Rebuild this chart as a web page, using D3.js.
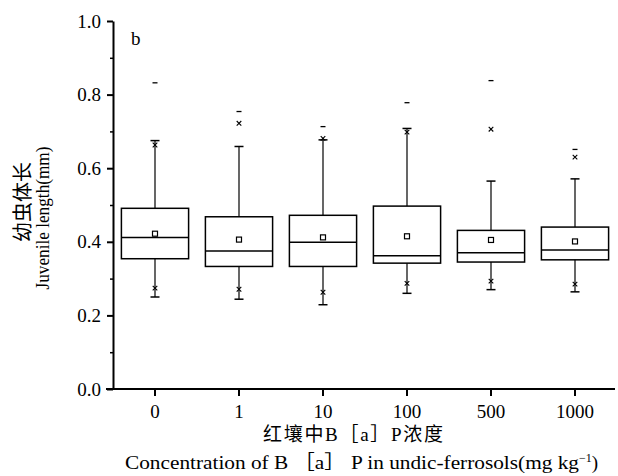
<!DOCTYPE html>
<html>
<head>
<meta charset="utf-8">
<script src="https://cdn.jsdelivr.net/npm/d3@7"></script>
<style>
  body { margin: 0; background: #fff; }
  svg text { font-family: "Liberation Serif", "Noto Sans CJK SC", serif; fill: #000; }
</style>
</head>
<body>
<svg id="chart" width="618" height="476"></svg>
<script>
// groups: B[a]P concentration in soil
const categories = ["0", "1", "10", "100", "500", "1000"];

// box statistics (mm)
const q1       = [0.354, 0.333, 0.333, 0.342, 0.345, 0.351];
const median   = [0.412, 0.375, 0.399, 0.362, 0.370, 0.378];
const q3       = [0.491, 0.468, 0.472, 0.497, 0.431, 0.440];
const mean     = [0.422, 0.406, 0.412, 0.415, 0.405, 0.401];
const whiskLo  = [0.250, 0.244, 0.229, 0.260, 0.270, 0.264];
const whiskHi  = [0.675, 0.659, 0.677, 0.708, 0.565, 0.571];
const pctLo    = [0.274, 0.271, 0.263, 0.287, 0.293, 0.285];   // 1% marks (x)
const pctHi    = [0.663, 0.722, 0.681, 0.698, 0.706, 0.630];   // 99% marks (x)
const maxVal   = [0.832, 0.754, 0.713, 0.778, 0.838, 0.651];   // max (dash)

const yTicks = [0, 0.2, 0.4, 0.6, 0.8, 1.0];
const yMinorTicks = [0.1, 0.3, 0.5, 0.7, 0.9];

const FONT = '"Liberation Serif", "Noto Sans CJK SC", serif';

const svg = d3.select("#chart");
const margin = {left: 113, right: 1, top: 21, bottom: 87};
const W = +svg.attr("width"), H = +svg.attr("height");

const x = d3.scaleBand()
    .domain(categories)
    .range([margin.left, W - margin.right]);

const y = d3.scaleLinear()
    .domain([0, 1])
    .range([H - margin.bottom, margin.top]);

const data = categories.map((c, i) => ({
    key: c, q1: q1[i], med: median[i], q3: q3[i], mean: mean[i],
    lo: whiskLo[i], hi: whiskHi[i], pLo: pctLo[i], pHi: pctHi[i], max: maxVal[i]
}));

const boxW = x.bandwidth() * 0.8;
const capW = 9;
const cx = d => x(d.key) + x.bandwidth() / 2;

// boxes
const g = svg.append("g").attr("class", "boxes");
const box = g.selectAll("g.box").data(data).enter().append("g").attr("class", "box");

// whiskers
box.append("line")
    .attr("x1", cx).attr("x2", cx)
    .attr("y1", d => y(d.q3)).attr("y2", d => y(d.hi))
    .attr("stroke", "#000").attr("stroke-width", 1.2);
box.append("line")
    .attr("x1", cx).attr("x2", cx)
    .attr("y1", d => y(d.q1)).attr("y2", d => y(d.lo))
    .attr("stroke", "#000").attr("stroke-width", 1.2);
// caps
box.selectAll("line.cap").data(d => [[d, d.hi], [d, d.lo]]).enter().append("line")
    .attr("class", "cap")
    .attr("x1", d => cx(d[0]) - capW / 2).attr("x2", d => cx(d[0]) + capW / 2)
    .attr("y1", d => y(d[1])).attr("y2", d => y(d[1]))
    .attr("stroke", "#000").attr("stroke-width", 1.5);

box.append("rect")
    .attr("x", d => cx(d) - boxW / 2)
    .attr("width", boxW)
    .attr("y", d => y(d.q3))
    .attr("height", d => y(d.q1) - y(d.q3))
    .attr("fill", "none").attr("stroke", "#000").attr("stroke-width", 1.5);

box.append("line")
    .attr("x1", d => cx(d) - boxW / 2).attr("x2", d => cx(d) + boxW / 2)
    .attr("y1", d => y(d.med)).attr("y2", d => y(d.med))
    .attr("stroke", "#000").attr("stroke-width", 1.5);

// mean square
box.append("rect")
    .attr("x", d => cx(d) - 2.5).attr("y", d => y(d.mean) - 2.5)
    .attr("width", 5).attr("height", 5)
    .attr("fill", "#fff").attr("stroke", "#000").attr("stroke-width", 1.2);

// percentile crosses
const cross = (px, py, s) =>
    `M${px - s},${py - s}L${px + s},${py + s}M${px - s},${py + s}L${px + s},${py - s}`;
box.append("path")
    .attr("d", d => cross(cx(d), y(d.pHi), 2.3) + cross(cx(d), y(d.pLo), 2.3))
    .attr("fill", "none").attr("stroke", "#000").attr("stroke-width", 1.1);

// max dash
box.append("line")
    .attr("x1", d => cx(d) - 2.5).attr("x2", d => cx(d) + 2.5)
    .attr("y1", d => y(d.max)).attr("y2", d => y(d.max))
    .attr("stroke", "#000").attr("stroke-width", 1.3);

// axes
const yAxis = svg.append("g")
    .attr("transform", `translate(${margin.left},0)`)
    .call(d3.axisLeft(y).tickValues(yTicks).tickFormat(d3.format(".1f"))
        .tickSize(6).tickSizeOuter(0).tickPadding(6));
svg.append("g")
    .attr("transform", `translate(${margin.left},0)`)
    .call(d3.axisLeft(y).tickValues(yMinorTicks).tickFormat("").tickSize(3).tickSizeOuter(0))
    .call(a => a.select(".domain").remove())
    .selectAll("line").attr("stroke-width", 1.5);

const xAxis = svg.append("g")
    .attr("transform", `translate(0,${y(0)})`)
    .call(d3.axisBottom(x).tickSize(7).tickSizeOuter(0).tickPadding(9));

[yAxis, xAxis].forEach(a => {
    a.attr("font-family", FONT).attr("font-size", 19);
    a.select(".domain").attr("stroke-width", 2);
    a.selectAll(".tick line").attr("stroke-width", 2);
    a.selectAll("text").attr("font-size", 19).attr("font-family", FONT);
});
// x axis line reaches left past the y axis, like the source
xAxis.select(".domain").attr("d", `M${margin.left - 7},0H${W - margin.right - 2}`);

// panel letter
svg.append("text").attr("x", 131).attr("y", 45).attr("font-size", 19).text("b");

// y titles
svg.append("text")
    .attr("transform", `translate(30,202) rotate(-90)`)
    .attr("text-anchor", "middle").attr("font-size", 20)
    .text("幼虫体长");
svg.append("text")
    .attr("transform", `translate(49,218) rotate(-90)`)
    .attr("text-anchor", "middle").attr("font-size", 18)
    .attr("textLength", 143).attr("lengthAdjust", "spacingAndGlyphs")
    .text("Juvenile length(mm)");

// x titles
svg.append("text")
    .attr("x", 263).attr("y", 441)
    .attr("font-size", 19)
    .attr("textLength", 180).attr("lengthAdjust", "spacing")
    .text("红壤中B［a］P浓度");
const xt = svg.append("text")
    .attr("x", 125).attr("y", 469)
    .attr("font-size", 19);
xt.append("tspan")
    .attr("textLength", 454).attr("lengthAdjust", "spacingAndGlyphs")
    .text("Concentration of B ［a］ P in undic-ferrosols(mg kg");
xt.append("tspan").attr("font-size", 12).attr("dy", -7).text("−1");
xt.append("tspan").attr("dy", 7).text(")");
</script>
</body>
</html>
